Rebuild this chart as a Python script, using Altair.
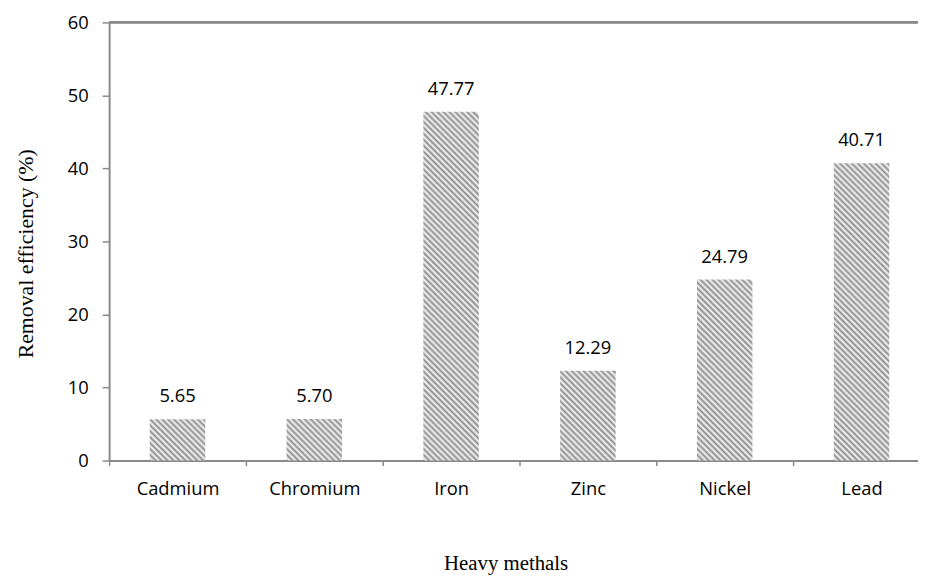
import altair as alt
import pandas as pd

metals = ["Cadmium", "Chromium", "Iron", "Zinc", "Nickel", "Lead"]
efficiency = [5.65, 5.70, 47.77, 12.29, 24.79, 40.71]
y_ticks = [0, 10, 20, 30, 40, 50, 60]

df = pd.DataFrame({"metal": metals, "value": efficiency})

AXIS_GRAY = "#8a8a8a"
PLOT_W = 828   # full plot width; the right 12px fall outside the picture (cropped chart)
PLOT_H = 442
BAR_W = 56
Y_MAX = 60


def hatch(value):
    """Diagonal hatch made with a striped linear gradient for one bar."""
    H = value / Y_MAX * PLOT_H
    W = BAR_W
    r = H / W
    lam = (1 + r) / (1 + r * r)
    total = W + H
    period = 6.0
    stops = []
    k = 0
    while True:
        o_dark = k * period / total
        o_light = (k * period + period / 2) / total
        if o_dark > 1:
            break
        stops.append({"offset": round(o_dark, 5), "color": "#8c8c8c"})
        if o_light <= 1:
            stops.append({"offset": round(o_light, 5), "color": "#f7f7f7"})
        k += 1
    return {
        "gradient": "linear",
        "x1": 0, "y1": 1,
        "x2": lam, "y2": 1 - lam * r,
        "stops": stops,
    }


x_enc = alt.X(
    "metal:N",
    sort=metals,
    scale=alt.Scale(domain=metals, paddingInner=0, paddingOuter=0),
    axis=alt.Axis(
        title="Heavy methals",
        tickBand="extent",
        labelAngle=0,
        domainColor=AXIS_GRAY, domainWidth=2,
        tickColor=AXIS_GRAY, tickWidth=1.5, tickSize=5,
        labelFont="Open Sans", labelFontSize=18.5, labelColor="#000000",
        labelBaseline="alphabetic", labelPadding=29,
        titleFont="Liberation Serif", titleFontSize=21, titleFontWeight="normal",
        titleColor="#000000", titleX=400, titleY=110,
        titleBaseline="alphabetic", titleAlign="center",
        grid=False,
    ),
)
y_enc = alt.Y(
    "value:Q",
    scale=alt.Scale(domain=[0, Y_MAX], nice=False),
    axis=alt.Axis(
        title="Removal efficiency (%)",
        values=y_ticks,
        domainColor=AXIS_GRAY, domainWidth=2,
        tickColor=AXIS_GRAY, tickWidth=1.5, tickSize=7,
        labelFont="Open Sans", labelFontSize=18.5, labelColor="#000000",
        labelPadding=14, labelBaseline="middle",
        titleFont="Liberation Serif", titleFontSize=22, titleFontWeight="normal",
        titleColor="#000000", titleAngle=270, titleX=-77, titleY=233,
        titleBaseline="alphabetic", titleAlign="center",
        grid=False,
    ),
)

base = alt.Chart(df).encode(x=x_enc, y=y_enc)

layers = []
for m, v in zip(metals, efficiency):
    layers.append(
        base.transform_filter(alt.datum.metal == m).mark_bar(width=BAR_W, color=hatch(v))
    )

labels = base.mark_text(
    font="Open Sans", fontSize=18.5, color="#000000",
    baseline="alphabetic", align="center", dy=-17,
).encode(text=alt.Text("value:Q", format=".2f"))

top_line = alt.Chart(df).mark_rule(color=AXIS_GRAY, strokeWidth=2).encode(
    y=alt.datum(Y_MAX)
)

chart = alt.layer(*layers, labels, top_line).properties(
    width=PLOT_W,
    height=PLOT_H,
    autosize="none",
    padding={"left": 102, "top": 12, "right": -12, "bottom": 115},
).configure_view(strokeWidth=0).configure(background="white")

chart.save("out.html", embed_options={"renderer": "svg", "actions": False})
